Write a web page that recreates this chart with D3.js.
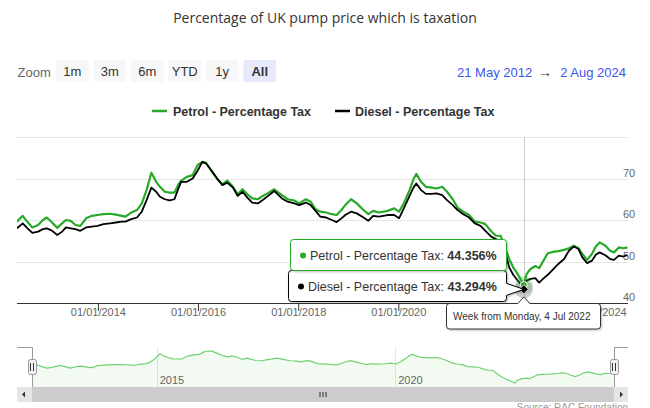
<!DOCTYPE html>
<html><head><meta charset="utf-8">
<script src="https://cdn.jsdelivr.net/npm/d3@7"></script>
<style>
html,body{margin:0;padding:0;background:#fff;}
svg{display:block;font-family:"Liberation Sans",Arial,sans-serif;}
</style></head>
<body><svg id="c" width="650" height="408"></svg>
<script>
const dates = [
"2012-05-21","2012-07-02","2012-08-06","2012-09-10","2012-10-22","2012-11-26","2012-12-24",
"2013-01-28","2013-03-11","2013-04-15","2013-05-13","2013-06-17","2013-07-22","2013-08-26","2013-10-07","2013-11-18","2013-12-30",
"2014-02-10","2014-03-31","2014-05-12","2014-06-23","2014-07-21","2014-09-01","2014-10-13","2014-11-17","2014-12-22",
"2015-01-26","2015-03-02","2015-03-30","2015-05-04","2015-06-08","2015-07-13","2015-08-10","2015-08-31","2015-10-12","2015-11-23","2015-12-28",
"2016-02-01","2016-02-29","2016-04-18","2016-05-23","2016-06-27","2016-08-01","2016-09-12","2016-10-17","2016-11-21","2016-12-26",
"2017-01-30","2017-03-13","2017-04-17","2017-05-22","2017-07-10","2017-09-04","2017-10-16","2017-12-04",
"2018-01-08","2018-02-26","2018-04-02","2018-05-07","2018-06-11","2018-07-23","2018-09-03","2018-10-08","2018-11-12","2018-12-10",
"2019-01-21","2019-03-04","2019-04-22","2019-05-27","2019-07-01","2019-08-12","2019-10-14","2019-12-02",
"2020-01-06","2020-02-10","2020-03-23","2020-04-20","2020-05-11","2020-06-15","2020-07-20","2020-08-31","2020-10-05","2020-11-16","2020-12-21",
"2021-02-01","2021-03-08","2021-04-19","2021-05-31","2021-07-12","2021-08-23","2021-09-27","2021-11-08","2021-12-13",
"2022-01-17","2022-02-14","2022-03-21","2022-04-18","2022-05-16","2022-06-06","2022-07-04","2022-07-25","2022-08-22","2022-09-26","2022-10-24","2022-11-21","2022-12-26",
"2023-01-30","2023-03-13","2023-04-24","2023-05-29","2023-07-03","2023-08-07","2023-09-04","2023-10-09","2023-11-13","2023-12-11",
"2024-01-08","2024-02-19","2024-03-25","2024-04-22","2024-05-27","2024-07-01","2024-07-29"
];
const petrol = [
59.6,61.0,59.5,58.2,58.8,60.0,60.6,
59.5,58.1,59.2,60.0,59.8,58.8,58.6,60.4,61.0,61.2,
61.4,61.5,61.3,61.0,60.8,61.8,62.4,64.0,67.2,
71.4,69.2,68.0,66.8,66.6,66.6,68.5,69.5,70.4,70.8,73.2,
74.0,73.8,71.3,69.8,68.6,69.5,68.0,66.2,67.4,66.2,
65.2,65.0,65.8,66.4,67.4,66.0,65.0,64.7,
64.0,65.0,64.4,62.6,62.0,61.8,61.4,61.2,62.4,63.6,
65.0,64.0,62.4,61.4,62.2,61.8,62.2,62.8,
62.0,64.0,67.2,69.8,71.1,69.2,68.0,67.8,67.6,68.0,66.8,
65.0,63.0,62.0,61.2,59.6,59.4,59.0,57.3,56.2,
56.2,53.5,50.5,48.6,47.2,46.0,44.356,47.0,48.2,48.9,48.4,50.0,52.0,
52.3,52.5,52.8,53.2,53.8,53.2,51.8,50.4,51.8,53.6,
54.6,53.8,52.6,52.2,53.4,53.2,53.4
];
const diesel = [
58.0,59.2,58.0,56.9,57.2,57.8,58.0,
57.5,56.4,57.2,58.2,58.0,57.8,57.4,58.2,58.4,58.6,
59.0,59.2,59.4,59.6,59.6,60.2,60.6,62.0,64.8,
67.8,66.8,65.6,65.0,64.7,65.0,67.5,69.2,69.2,70.0,71.8,
74.0,73.6,71.5,69.8,68.4,69.0,67.8,65.8,66.8,65.4,
64.2,64.0,64.8,65.7,67.0,65.2,64.4,64.0,
63.6,64.2,63.6,62.2,60.8,60.6,60.0,59.5,60.4,61.2,
62.0,61.6,60.6,59.8,61.0,60.8,61.2,61.2,
60.4,62.8,65.8,67.8,68.8,67.2,66.3,66.3,66.4,66.0,64.8,
63.6,62.4,61.4,60.6,59.2,58.6,57.4,56.0,55.4,
54.8,52.6,48.5,46.8,45.6,44.8,43.294,45.4,45.8,46.0,44.9,45.8,46.8,
48.0,49.4,50.6,52.6,53.6,53.0,51.0,49.6,50.2,51.6,
52.2,51.5,50.6,50.4,51.4,51.2,51.6
];
const seriesNames = ["Petrol - Percentage Tax","Diesel - Percentage Tax"];
const yTicks = [40,50,60,70,80];
const yTickLabels = ["40","50","60","70"];
const xTickDates = ["2014-01-01","2016-01-01","2018-01-01","2020-01-01","2024-01-01"];
const navTickDates = ["2015-01-01","2020-01-01"];
const rangeStart = "2012-05-21", rangeEnd = "2024-08-02";
const zoomButtons = ["1m","3m","6m","YTD","1y","All"];
const hoverDate = "2022-07-04";
const titleText = "Percentage of UK pump price which is taxation";
const sourceText = "Source: RAC Foundation";

const parse = d3.timeParse("%Y-%m-%d");
const data = dates.map((d,i)=>({date:parse(d),p:petrol[i],d:diesel[i]}));
const GREEN = "#27aa27", BLACK = "#000000";
const svg = d3.select("#c");
const defs = svg.append("defs");
const f = defs.append("filter").attr("id","sh").attr("x","-10%").attr("y","-20%").attr("width","130%").attr("height","160%");
f.append("feDropShadow").attr("dx",1).attr("dy",1).attr("stdDeviation",1.2).attr("flood-color","#000").attr("flood-opacity",0.25);

// Title
svg.append("text").attr("x",325).attr("y",23).attr("text-anchor","middle")
  .style("font-family","'Open Sans',sans-serif").style("font-size","14px").attr("fill","#333").text(titleText);

// Range selector
svg.append("text").attr("x",17.5).attr("y",76.5).attr("fill","#666").style("font-size","13px").text("Zoom");
const bx = d3.scaleBand().domain(zoomButtons).range([56,276]).paddingInner(0.13);
zoomButtons.forEach(b=>{
  const sel = b==="All";
  svg.append("rect").attr("x",bx(b)).attr("y",60).attr("width",bx.bandwidth()).attr("height",22).attr("rx",2)
    .attr("fill",sel?"#e6e9fb":"#f7f7f7");
  svg.append("text").attr("x",bx(b)+bx.bandwidth()/2).attr("y",76).attr("text-anchor","middle")
    .style("font-size","13px").style("font-weight",sel?"bold":"normal").attr("fill","#333").text(b);
});
const fmtR = d3.timeFormat("%-d %b %Y");
svg.append("text").attr("x",457).attr("y",76.5).attr("fill","#3b55f0").style("font-size","13px").text(fmtR(parse(rangeStart)));
svg.append("text").attr("x",545).attr("y",76.5).attr("text-anchor","middle").attr("fill","#333").style("font-size","14px").text("→");
svg.append("text").attr("x",626).attr("y",76.5).attr("text-anchor","end").attr("fill","#3b55f0").style("font-size","13px").text(fmtR(parse(rangeEnd)));

// Legend
[[0,152,173,GREEN],[1,335,355,BLACK]].forEach(([i,lx,tx,c])=>{
  svg.append("line").attr("x1",lx).attr("x2",lx+15).attr("y1",111).attr("y2",111).attr("stroke",c).attr("stroke-width",2.5);
  svg.append("text").attr("x",tx).attr("y",115.5).style("font-size","12.5px").style("font-weight","bold").attr("fill","#333").text(seriesNames[i]);
});

// Main plot
const L=17, R=628, T=137, B=303;
const x = d3.scaleTime().domain([parse(rangeStart),parse(rangeEnd)]).range([L,R]);
const y = d3.scaleLinear().domain([40,80]).range([B,T]);
svg.append("g").selectAll("line").data(yTicks.slice(1)).join("line")
  .attr("x1",L).attr("x2",R).attr("y1",d=>Math.round(y(d))+0.5).attr("y2",d=>Math.round(y(d))+0.5)
  .attr("stroke","#e6e6e6");
svg.append("g").selectAll("text").data(yTickLabels).join("text")
  .attr("x",623).attr("y",d=>y(+d)-2).attr("fill","#666").style("font-size","11px").text(d=>d);

defs.append("clipPath").attr("id","clipx").append("rect").attr("x",0).attr("y",B).attr("width",600).attr("height",40);
defs.append("clipPath").attr("id","clipx2").append("rect").attr("x",601).attr("y",B).attr("width",49).attr("height",40);
const xa = d3.axisBottom(x).tickValues(xTickDates.map(parse)).tickFormat(d3.timeFormat("%d/%m/%Y")).tickSize(8).tickSizeOuter(0);
const gx = svg.append("g").attr("transform",`translate(0,${B})`).call(xa);
gx.select(".domain").attr("stroke","#333").attr("d",`M${L},0.5H${R}`);
gx.selectAll(".tick line").attr("stroke","#333");
gx.selectAll(".tick text").attr("fill","#666").style("font-size","11px").attr("dy","0.2em").attr("y",11);
gx.selectAll(".tick").filter(d=>x(d)>560).select("text").attr("clip-path","url(#clipLast)");
defs.append("clipPath").attr("id","clipLast").append("rect").attr("x",2).attr("y",0).attr("width",40).attr("height",40);

defs.append("clipPath").attr("id","clip").append("rect").attr("x",L).attr("y",T-5).attr("width",R-L).attr("height",B-T+5);
const hd = parse(hoverDate);
svg.append("line").attr("x1",Math.round(x(hd))+0.5).attr("x2",Math.round(x(hd))+0.5).attr("y1",T).attr("y2",B).attr("stroke","#cccccc");
const lineP = d3.line().x(d=>x(d.date)).y(d=>y(d.p));
const lineD = d3.line().x(d=>x(d.date)).y(d=>y(d.d));
const gl = svg.append("g").attr("clip-path","url(#clip)");
gl.append("path").datum(data).attr("d",lineP).attr("fill","none").attr("stroke",GREEN).attr("stroke-width",2.2).attr("stroke-linejoin","round");
gl.append("path").datum(data).attr("d",lineD).attr("fill","none").attr("stroke",BLACK).attr("stroke-width",1.8).attr("stroke-linejoin","round");

// hover markers
const hi = dates.indexOf(hoverDate);
const hx = x(hd), hyP = y(petrol[hi]), hyD = y(diesel[hi]);
svg.append("circle").attr("cx",hx).attr("cy",hyP).attr("r",9).attr("fill",GREEN).attr("opacity",0.25);
svg.append("circle").attr("cx",hx).attr("cy",hyD).attr("r",9).attr("fill","#555").attr("opacity",0.3);
svg.append("circle").attr("cx",hx).attr("cy",hyP).attr("r",3.5).attr("fill",GREEN).attr("stroke","#fff");
svg.append("path").attr("d",`M${hx},${hyD-4.5}L${hx+4.5},${hyD}L${hx},${hyD+4.5}L${hx-4.5},${hyD}Z`).attr("fill","#000").attr("stroke","#fff").attr("stroke-width",0.8);

// Navigator
const NL=32, NR=614, NT=347, NB=387;
const nx = d3.scaleTime().domain([parse(rangeStart),parse(rangeEnd)]).range([NL,NR]);
const ny = d3.scaleLinear().domain([40.7,77.7]).range([NB,NT]);
svg.append("g").selectAll("line").data(navTickDates.map(parse)).join("line")
  .attr("x1",d=>Math.round(nx(d))+0.5).attr("x2",d=>Math.round(nx(d))+0.5).attr("y1",NT).attr("y2",NB).attr("stroke","#e6e6e6");
svg.append("path").datum(data).attr("d",d3.area().x(d=>nx(d.date)).y0(NB).y1(d=>ny(d.p))).attr("fill",GREEN).attr("opacity",0.06);
svg.append("path").datum(data).attr("d",d3.line().x(d=>nx(d.date)).y(d=>ny(d.p))).attr("fill","none").attr("stroke","#6fd26f").attr("stroke-width",1.2);
svg.append("g").selectAll("text").data(navTickDates.map(parse)).join("text")
  .attr("x",d=>nx(d)+3).attr("y",384).attr("fill","#666").style("font-size","11px").text(d3.timeFormat("%Y"));
svg.append("path").attr("d",`M${L},${NT+0.5}H${NL+0.5}V${NB} M${NR+0.5},${NB}V${NT+0.5}H${R}`).attr("fill","none").attr("stroke","#999");
[NL,NR].forEach(hxp=>{
  svg.append("rect").attr("x",hxp-4+0.5).attr("y",359.5).attr("width",8).attr("height",15).attr("rx",2).attr("fill","#f2f2f2").attr("stroke","#999");
  svg.append("path").attr("d",`M${hxp-1.5},363V371M${hxp+1.5},363V371`).attr("stroke","#333");
});
// scrollbar
svg.append("rect").attr("x",L).attr("y",NB).attr("width",R-L).attr("height",15).attr("fill","#f2f2f2");
svg.append("rect").attr("x",NL).attr("y",NB).attr("width",NR-NL).attr("height",15).attr("fill","#cccccc");
svg.append("rect").attr("x",L).attr("y",NB).attr("width",NL-L).attr("height",15).attr("fill","#e6e6e6");
svg.append("rect").attr("x",NR).attr("y",NB).attr("width",R-NR).attr("height",15).attr("fill","#e6e6e6");
svg.append("path").attr("d",`M${L+5},394.5L${L+8},391.5V397.5Z`).attr("fill","#333");
svg.append("path").attr("d",`M${R-5},394.5L${R-8},391.5V397.5Z`).attr("fill","#333");
const mid = (NL+NR)/2;
svg.append("path").attr("d",`M${mid-3},392V397M${mid},392V397M${mid+3},392V397`).attr("stroke","#333");
svg.append("text").attr("x",628).attr("y",410.5).attr("text-anchor","end").attr("fill","#999").style("font-size","10px").text(sourceText);

// Tooltips
function box(x0,y0,w,h,stroke,pointer){
  let d;
  if(pointer){
    const [ax,ay]=pointer;
    d=`M${x0+3},${y0}H${x0+w-3}Q${x0+w},${y0} ${x0+w},${y0+3}V${ay-6}L${ax},${ay}L${x0+w},${ay+6}V${y0+h-3}Q${x0+w},${y0+h} ${x0+w-3},${y0+h}H${x0+3}Q${x0},${y0+h} ${x0},${y0+h-3}V${y0+3}Q${x0},${y0} ${x0+3},${y0}Z`;
  } else {
    d=`M${x0+3},${y0}H${x0+w-3}Q${x0+w},${y0} ${x0+w},${y0+3}V${y0+h-3}Q${x0+w},${y0+h} ${x0+w-3},${y0+h}H${x0+3}Q${x0},${y0+h} ${x0},${y0+h-3}V${y0+3}Q${x0},${y0} ${x0+3},${y0}Z`;
  }
  svg.append("path").attr("d",d).attr("fill","#fff").attr("stroke",stroke).attr("filter","url(#sh)");
}
function tipText(tx,ty,dotc,name,val){
  svg.append("circle").attr("cx",tx-7).attr("cy",ty-4).attr("r",3).attr("fill",dotc);
  const t = svg.append("text").attr("x",tx).attr("y",ty).style("font-size","12.5px").attr("fill","#333");
  t.append("tspan").text(name+": ");
  t.append("tspan").style("font-weight","bold").text(val.toFixed(3)+"%");
}
// date header box
const hdx = hx;
svg.append("path").attr("d",`M446.5,${B+0.5}H${hdx-6}L${hdx},${B-6}L${hdx+6},${B+0.5}H597.5Q600.5,${B+0.5} 600.5,${B+3.5}V326Q600.5,329 597.5,329H449.5Q446.5,329 446.5,326V${B+3.5}Q446.5,${B+0.5} 449.5,${B+0.5}Z`)
  .attr("fill","#fff").attr("stroke","#333").attr("filter","url(#sh)");
svg.append("text").attr("x",453).attr("y",320).style("font-size","10px").attr("fill","#333")
  .text(d3.timeFormat("Week from %A, %-d %b %Y")(hd));
box(288.5,270.5,218,31,"#000",[hx,hyD]);
tipText(308,290.5,"#000",seriesNames[1],diesel[hi]);
box(290.5,239.5,216,31,GREEN,null);
tipText(310,259.5,GREEN,seriesNames[0],petrol[hi]);
</script></body></html>
